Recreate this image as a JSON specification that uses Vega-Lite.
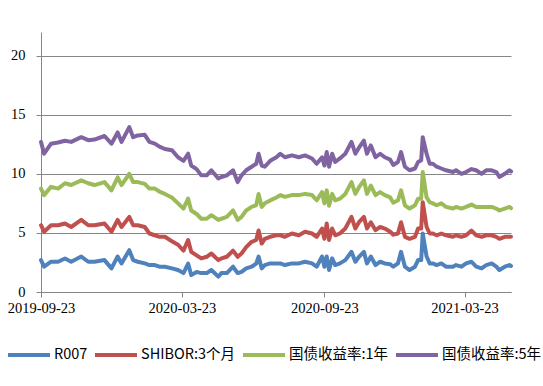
{
"$schema": "https://vega.github.io/schema/vega-lite/v6.json",
"width": 470, "height": 260,
"autosize": {"type": "none"},
"padding": {"left": 41, "top": 32, "right": 32, "bottom": 94},
"background": "white",
"config": {"view": {"stroke": null}, "font": "Liberation Serif"},
"data": {"values": [
{"date":"2019-09-23","series":"R007","value":2.7},{"date":"2019-09-23","series":"SHIBOR:3个月","value":5.65},{"date":"2019-09-23","series":"国债收益率:1年","value":8.75},{"date":"2019-09-23","series":"国债收益率:5年","value":12.7},
{"date":"2019-09-27","series":"R007","value":2.14},{"date":"2019-09-27","series":"SHIBOR:3个月","value":5.1},{"date":"2019-09-27","series":"国债收益率:1年","value":8.2},{"date":"2019-09-27","series":"国债收益率:5年","value":11.7},
{"date":"2019-10-06","series":"R007","value":2.56},{"date":"2019-10-06","series":"SHIBOR:3个月","value":5.65},{"date":"2019-10-06","series":"国债收益率:1年","value":8.9},{"date":"2019-10-06","series":"国债收益率:5年","value":12.55},
{"date":"2019-10-15","series":"R007","value":2.56},{"date":"2019-10-15","series":"SHIBOR:3个月","value":5.65},{"date":"2019-10-15","series":"国债收益率:1年","value":8.75},{"date":"2019-10-15","series":"国债收益率:5年","value":12.65},
{"date":"2019-10-24","series":"R007","value":2.84},{"date":"2019-10-24","series":"SHIBOR:3个月","value":5.8},{"date":"2019-10-24","series":"国债收益率:1年","value":9.2},{"date":"2019-10-24","series":"国债收益率:5年","value":12.8},
{"date":"2019-11-01","series":"R007","value":2.56},{"date":"2019-11-01","series":"SHIBOR:3个月","value":5.5},{"date":"2019-11-01","series":"国债收益率:1年","value":9.05},{"date":"2019-11-01","series":"国债收益率:5年","value":12.7},
{"date":"2019-11-14","series":"R007","value":3.0},{"date":"2019-11-14","series":"SHIBOR:3个月","value":6.1},{"date":"2019-11-14","series":"国债收益率:1年","value":9.45},{"date":"2019-11-14","series":"国债收益率:5年","value":13.1},
{"date":"2019-11-23","series":"R007","value":2.56},{"date":"2019-11-23","series":"SHIBOR:3个月","value":5.65},{"date":"2019-11-23","series":"国债收益率:1年","value":9.2},{"date":"2019-11-23","series":"国债收益率:5年","value":12.85},
{"date":"2019-12-01","series":"R007","value":2.56},{"date":"2019-12-01","series":"SHIBOR:3个月","value":5.65},{"date":"2019-12-01","series":"国债收益率:1年","value":9.05},{"date":"2019-12-01","series":"国债收益率:5年","value":12.9},
{"date":"2019-12-14","series":"R007","value":2.7},{"date":"2019-12-14","series":"SHIBOR:3个月","value":5.8},{"date":"2019-12-14","series":"国债收益率:1年","value":9.3},{"date":"2019-12-14","series":"国债收益率:5年","value":13.2},
{"date":"2019-12-23","series":"R007","value":2.0},{"date":"2019-12-23","series":"SHIBOR:3个月","value":5.1},{"date":"2019-12-23","series":"国债收益率:1年","value":8.6},{"date":"2019-12-23","series":"国债收益率:5年","value":12.55},
{"date":"2019-12-31","series":"R007","value":3.0},{"date":"2019-12-31","series":"SHIBOR:3个月","value":6.1},{"date":"2019-12-31","series":"国债收益率:1年","value":9.7},{"date":"2019-12-31","series":"国债收益率:5年","value":13.5},
{"date":"2020-01-05","series":"R007","value":2.42},{"date":"2020-01-05","series":"SHIBOR:3个月","value":5.5},{"date":"2020-01-05","series":"国债收益率:1年","value":9.05},{"date":"2020-01-05","series":"国债收益率:5年","value":12.7},
{"date":"2020-01-15","series":"R007","value":3.54},{"date":"2020-01-15","series":"SHIBOR:3个月","value":6.35},{"date":"2020-01-15","series":"国债收益率:1年","value":10.0},{"date":"2020-01-15","series":"国债收益率:5年","value":13.95},
{"date":"2020-01-20","series":"R007","value":2.7},{"date":"2020-01-20","series":"SHIBOR:3个月","value":5.65},{"date":"2020-01-20","series":"国债收益率:1年","value":9.3},{"date":"2020-01-20","series":"国债收益率:5年","value":13.1},
{"date":"2020-01-26","series":"R007","value":2.56},{"date":"2020-01-26","series":"SHIBOR:3个月","value":5.65},{"date":"2020-01-26","series":"国债收益率:1年","value":9.3},{"date":"2020-01-26","series":"国债收益率:5年","value":13.25},
{"date":"2020-02-04","series":"R007","value":2.42},{"date":"2020-02-04","series":"SHIBOR:3个月","value":5.5},{"date":"2020-02-04","series":"国债收益率:1年","value":9.15},{"date":"2020-02-04","series":"国债收益率:5年","value":13.3},
{"date":"2020-02-10","series":"R007","value":2.28},{"date":"2020-02-10","series":"SHIBOR:3个月","value":4.95},{"date":"2020-02-10","series":"国债收益率:1年","value":8.75},{"date":"2020-02-10","series":"国债收益率:5年","value":12.7},
{"date":"2020-02-17","series":"R007","value":2.28},{"date":"2020-02-17","series":"SHIBOR:3个月","value":4.8},{"date":"2020-02-17","series":"国债收益率:1年","value":8.75},{"date":"2020-02-17","series":"国债收益率:5年","value":12.55},
{"date":"2020-02-23","series":"R007","value":2.14},{"date":"2020-02-23","series":"SHIBOR:3个月","value":4.67},{"date":"2020-02-23","series":"国债收益率:1年","value":8.5},{"date":"2020-02-23","series":"国债收益率:5年","value":12.3},
{"date":"2020-03-01","series":"R007","value":2.14},{"date":"2020-03-01","series":"SHIBOR:3个月","value":4.67},{"date":"2020-03-01","series":"国债收益率:1年","value":8.3},{"date":"2020-03-01","series":"国债收益率:5年","value":12.1},
{"date":"2020-03-10","series":"R007","value":2.0},{"date":"2020-03-10","series":"SHIBOR:3个月","value":4.3},{"date":"2020-03-10","series":"国债收益率:1年","value":8.0},{"date":"2020-03-10","series":"国债收益率:5年","value":12.0},
{"date":"2020-03-18","series":"R007","value":1.86},{"date":"2020-03-18","series":"SHIBOR:3个月","value":4.0},{"date":"2020-03-18","series":"国债收益率:1年","value":7.5},{"date":"2020-03-18","series":"国债收益率:5年","value":11.4},
{"date":"2020-03-25","series":"R007","value":1.6},{"date":"2020-03-25","series":"SHIBOR:3个月","value":3.5},{"date":"2020-03-25","series":"国债收益率:1年","value":7.05},{"date":"2020-03-25","series":"国债收益率:5年","value":11.1},
{"date":"2020-03-31","series":"R007","value":2.4},{"date":"2020-03-31","series":"SHIBOR:3个月","value":4.4},{"date":"2020-03-31","series":"国债收益率:1年","value":7.9},{"date":"2020-03-31","series":"国债收益率:5年","value":11.7},
{"date":"2020-04-04","series":"R007","value":1.43},{"date":"2020-04-04","series":"SHIBOR:3个月","value":3.4},{"date":"2020-04-04","series":"国债收益率:1年","value":6.9},{"date":"2020-04-04","series":"国债收益率:5年","value":10.7},
{"date":"2020-04-11","series":"R007","value":1.7},{"date":"2020-04-11","series":"SHIBOR:3个月","value":3.1},{"date":"2020-04-11","series":"国债收益率:1年","value":6.6},{"date":"2020-04-11","series":"国债收益率:5年","value":10.4},
{"date":"2020-04-17","series":"R007","value":1.6},{"date":"2020-04-17","series":"SHIBOR:3个月","value":2.84},{"date":"2020-04-17","series":"国债收益率:1年","value":6.2},{"date":"2020-04-17","series":"国债收益率:5年","value":9.87},
{"date":"2020-04-24","series":"R007","value":1.6},{"date":"2020-04-24","series":"SHIBOR:3个月","value":2.98},{"date":"2020-04-24","series":"国债收益率:1年","value":6.2},{"date":"2020-04-24","series":"国债收益率:5年","value":9.87},
{"date":"2020-04-30","series":"R007","value":1.86},{"date":"2020-04-30","series":"SHIBOR:3个月","value":3.26},{"date":"2020-04-30","series":"国债收益率:1年","value":6.5},{"date":"2020-04-30","series":"国债收益率:5年","value":10.3},
{"date":"2020-05-09","series":"R007","value":1.3},{"date":"2020-05-09","series":"SHIBOR:3个月","value":2.7},{"date":"2020-05-09","series":"国债收益率:1年","value":6.1},{"date":"2020-05-09","series":"国债收益率:5年","value":9.6},
{"date":"2020-05-13","series":"R007","value":1.6},{"date":"2020-05-13","series":"SHIBOR:3个月","value":2.84},{"date":"2020-05-13","series":"国债收益率:1年","value":6.2},{"date":"2020-05-13","series":"国债收益率:5年","value":9.73},
{"date":"2020-05-20","series":"R007","value":1.6},{"date":"2020-05-20","series":"SHIBOR:3个月","value":2.98},{"date":"2020-05-20","series":"国债收益率:1年","value":6.35},{"date":"2020-05-20","series":"国债收益率:5年","value":9.87},
{"date":"2020-05-28","series":"R007","value":2.14},{"date":"2020-05-28","series":"SHIBOR:3个月","value":3.5},{"date":"2020-05-28","series":"国债收益率:1年","value":6.9},{"date":"2020-05-28","series":"国债收益率:5年","value":10.3},
{"date":"2020-06-03","series":"R007","value":1.6},{"date":"2020-06-03","series":"SHIBOR:3个月","value":2.98},{"date":"2020-06-03","series":"国债收益率:1年","value":6.1},{"date":"2020-06-03","series":"国债收益率:5年","value":9.3},
{"date":"2020-06-08","series":"R007","value":1.7},{"date":"2020-06-08","series":"SHIBOR:3个月","value":3.26},{"date":"2020-06-08","series":"国债收益率:1年","value":6.35},{"date":"2020-06-08","series":"国债收益率:5年","value":9.87},
{"date":"2020-06-14","series":"R007","value":2.0},{"date":"2020-06-14","series":"SHIBOR:3个月","value":3.8},{"date":"2020-06-14","series":"国债收益率:1年","value":6.9},{"date":"2020-06-14","series":"国债收益率:5年","value":10.3},
{"date":"2020-06-21","series":"R007","value":2.14},{"date":"2020-06-21","series":"SHIBOR:3个月","value":4.25},{"date":"2020-06-21","series":"国债收益率:1年","value":7.2},{"date":"2020-06-21","series":"国债收益率:5年","value":10.6},
{"date":"2020-06-27","series":"R007","value":2.4},{"date":"2020-06-27","series":"SHIBOR:3个月","value":4.4},{"date":"2020-06-27","series":"国债收益率:1年","value":7.35},{"date":"2020-06-27","series":"国债收益率:5年","value":10.85},
{"date":"2020-06-30","series":"R007","value":3.0},{"date":"2020-06-30","series":"SHIBOR:3个月","value":5.2},{"date":"2020-06-30","series":"国债收益率:1年","value":8.3},{"date":"2020-06-30","series":"国债收益率:5年","value":11.7},
{"date":"2020-07-04","series":"R007","value":2.0},{"date":"2020-07-04","series":"SHIBOR:3个月","value":4.1},{"date":"2020-07-04","series":"国债收益率:1年","value":7.2},{"date":"2020-07-04","series":"国债收益率:5年","value":10.7},
{"date":"2020-07-08","series":"R007","value":2.28},{"date":"2020-07-08","series":"SHIBOR:3个月","value":4.5},{"date":"2020-07-08","series":"国债收益率:1年","value":7.5},{"date":"2020-07-08","series":"国债收益率:5年","value":10.6},
{"date":"2020-07-15","series":"R007","value":2.42},{"date":"2020-07-15","series":"SHIBOR:3个月","value":4.67},{"date":"2020-07-15","series":"国债收益率:1年","value":7.75},{"date":"2020-07-15","series":"国债收益率:5年","value":11.1},
{"date":"2020-07-23","series":"R007","value":2.42},{"date":"2020-07-23","series":"SHIBOR:3个月","value":4.8},{"date":"2020-07-23","series":"国债收益率:1年","value":8.0},{"date":"2020-07-23","series":"国债收益率:5年","value":11.4},
{"date":"2020-07-28","series":"R007","value":2.42},{"date":"2020-07-28","series":"SHIBOR:3个月","value":4.8},{"date":"2020-07-28","series":"国债收益率:1年","value":8.2},{"date":"2020-07-28","series":"国债收益率:5年","value":11.7},
{"date":"2020-08-03","series":"R007","value":2.28},{"date":"2020-08-03","series":"SHIBOR:3个月","value":4.67},{"date":"2020-08-03","series":"国债收益率:1年","value":8.05},{"date":"2020-08-03","series":"国债收益率:5年","value":11.4},
{"date":"2020-08-12","series":"R007","value":2.42},{"date":"2020-08-12","series":"SHIBOR:3个月","value":4.95},{"date":"2020-08-12","series":"国债收益率:1年","value":8.2},{"date":"2020-08-12","series":"国债收益率:5年","value":11.56},
{"date":"2020-08-21","series":"R007","value":2.42},{"date":"2020-08-21","series":"SHIBOR:3个月","value":4.8},{"date":"2020-08-21","series":"国债收益率:1年","value":8.2},{"date":"2020-08-21","series":"国债收益率:5年","value":11.4},
{"date":"2020-08-29","series":"R007","value":2.56},{"date":"2020-08-29","series":"SHIBOR:3个月","value":5.1},{"date":"2020-08-29","series":"国债收益率:1年","value":8.3},{"date":"2020-08-29","series":"国债收益率:5年","value":11.56},
{"date":"2020-09-07","series":"R007","value":2.42},{"date":"2020-09-07","series":"SHIBOR:3个月","value":4.95},{"date":"2020-09-07","series":"国债收益率:1年","value":8.2},{"date":"2020-09-07","series":"国债收益率:5年","value":11.3},
{"date":"2020-09-13","series":"R007","value":2.14},{"date":"2020-09-13","series":"SHIBOR:3个月","value":4.67},{"date":"2020-09-13","series":"国债收益率:1年","value":7.76},{"date":"2020-09-13","series":"国债收益率:5年","value":10.85},
{"date":"2020-09-20","series":"R007","value":3.0},{"date":"2020-09-20","series":"SHIBOR:3个月","value":5.37},{"date":"2020-09-20","series":"国债收益率:1年","value":8.45},{"date":"2020-09-20","series":"国债收益率:5年","value":11.4},
{"date":"2020-09-23","series":"R007","value":2.14},{"date":"2020-09-23","series":"SHIBOR:3个月","value":4.5},{"date":"2020-09-23","series":"国债收益率:1年","value":7.5},{"date":"2020-09-23","series":"国债收益率:5年","value":10.7},
{"date":"2020-09-26","series":"R007","value":3.0},{"date":"2020-09-26","series":"SHIBOR:3个月","value":5.8},{"date":"2020-09-26","series":"国债收益率:1年","value":8.6},{"date":"2020-09-26","series":"国债收益率:5年","value":11.84},
{"date":"2020-09-29","series":"R007","value":1.86},{"date":"2020-09-29","series":"SHIBOR:3个月","value":4.4},{"date":"2020-09-29","series":"国债收益率:1年","value":7.3},{"date":"2020-09-29","series":"国债收益率:5年","value":10.6},
{"date":"2020-10-03","series":"R007","value":2.85},{"date":"2020-10-03","series":"SHIBOR:3个月","value":5.37},{"date":"2020-10-03","series":"国债收益率:1年","value":8.3},{"date":"2020-10-03","series":"国债收益率:5年","value":11.7},
{"date":"2020-10-07","series":"R007","value":2.28},{"date":"2020-10-07","series":"SHIBOR:3个月","value":4.8},{"date":"2020-10-07","series":"国债收益率:1年","value":7.76},{"date":"2020-10-07","series":"国债收益率:5年","value":11.0},
{"date":"2020-10-13","series":"R007","value":2.42},{"date":"2020-10-13","series":"SHIBOR:3个月","value":4.95},{"date":"2020-10-13","series":"国债收益率:1年","value":7.9},{"date":"2020-10-13","series":"国债收益率:5年","value":11.3},
{"date":"2020-10-20","series":"R007","value":2.7},{"date":"2020-10-20","series":"SHIBOR:3个月","value":5.37},{"date":"2020-10-20","series":"国债收益率:1年","value":8.3},{"date":"2020-10-20","series":"国债收益率:5年","value":11.7},
{"date":"2020-10-28","series":"R007","value":3.4},{"date":"2020-10-28","series":"SHIBOR:3个月","value":6.36},{"date":"2020-10-28","series":"国债收益率:1年","value":9.3},{"date":"2020-10-28","series":"国债收益率:5年","value":12.7},
{"date":"2020-11-02","series":"R007","value":2.56},{"date":"2020-11-02","series":"SHIBOR:3个月","value":5.37},{"date":"2020-11-02","series":"国债收益率:1年","value":8.3},{"date":"2020-11-02","series":"国债收益率:5年","value":11.7},
{"date":"2020-11-07","series":"R007","value":3.0},{"date":"2020-11-07","series":"SHIBOR:3个月","value":5.94},{"date":"2020-11-07","series":"国债收益率:1年","value":8.9},{"date":"2020-11-07","series":"国债收益率:5年","value":12.25},
{"date":"2020-11-13","series":"R007","value":3.4},{"date":"2020-11-13","series":"SHIBOR:3个月","value":6.36},{"date":"2020-11-13","series":"国债收益率:1年","value":9.45},{"date":"2020-11-13","series":"国债收益率:5年","value":12.8},
{"date":"2020-11-17","series":"R007","value":2.42},{"date":"2020-11-17","series":"SHIBOR:3个月","value":5.37},{"date":"2020-11-17","series":"国债收益率:1年","value":8.3},{"date":"2020-11-17","series":"国债收益率:5年","value":11.7},
{"date":"2020-11-22","series":"R007","value":3.0},{"date":"2020-11-22","series":"SHIBOR:3个月","value":5.9},{"date":"2020-11-22","series":"国债收益率:1年","value":9.0},{"date":"2020-11-22","series":"国债收益率:5年","value":12.4},
{"date":"2020-11-28","series":"R007","value":2.28},{"date":"2020-11-28","series":"SHIBOR:3个月","value":5.23},{"date":"2020-11-28","series":"国债收益率:1年","value":8.2},{"date":"2020-11-28","series":"国债收益率:5年","value":11.4},
{"date":"2020-12-04","series":"R007","value":2.56},{"date":"2020-12-04","series":"SHIBOR:3个月","value":5.5},{"date":"2020-12-04","series":"国债收益率:1年","value":8.45},{"date":"2020-12-04","series":"国债收益率:5年","value":11.7},
{"date":"2020-12-10","series":"R007","value":2.42},{"date":"2020-12-10","series":"SHIBOR:3个月","value":5.37},{"date":"2020-12-10","series":"国债收益率:1年","value":8.2},{"date":"2020-12-10","series":"国债收益率:5年","value":11.4},
{"date":"2020-12-17","series":"R007","value":2.35},{"date":"2020-12-17","series":"SHIBOR:3个月","value":5.1},{"date":"2020-12-17","series":"国债收益率:1年","value":8.0},{"date":"2020-12-17","series":"国债收益率:5年","value":11.2},
{"date":"2020-12-21","series":"R007","value":2.14},{"date":"2020-12-21","series":"SHIBOR:3个月","value":4.85},{"date":"2020-12-21","series":"国债收益率:1年","value":7.55},{"date":"2020-12-21","series":"国债收益率:5年","value":10.75},
{"date":"2020-12-27","series":"R007","value":2.42},{"date":"2020-12-27","series":"SHIBOR:3个月","value":4.95},{"date":"2020-12-27","series":"国债收益率:1年","value":7.76},{"date":"2020-12-27","series":"国债收益率:5年","value":11.0},
{"date":"2020-12-31","series":"R007","value":3.4},{"date":"2020-12-31","series":"SHIBOR:3个月","value":5.9},{"date":"2020-12-31","series":"国债收益率:1年","value":8.6},{"date":"2020-12-31","series":"国债收益率:5年","value":11.84},
{"date":"2021-01-05","series":"R007","value":2.14},{"date":"2021-01-05","series":"SHIBOR:3个月","value":4.67},{"date":"2021-01-05","series":"国债收益率:1年","value":7.34},{"date":"2021-01-05","series":"国债收益率:5年","value":10.6},
{"date":"2021-01-11","series":"R007","value":1.86},{"date":"2021-01-11","series":"SHIBOR:3个月","value":4.5},{"date":"2021-01-11","series":"国债收益率:1年","value":7.06},{"date":"2021-01-11","series":"国债收益率:5年","value":10.3},
{"date":"2021-01-18","series":"R007","value":2.14},{"date":"2021-01-18","series":"SHIBOR:3个月","value":4.67},{"date":"2021-01-18","series":"国债收益率:1年","value":7.34},{"date":"2021-01-18","series":"国债收益率:5年","value":10.45},
{"date":"2021-01-22","series":"R007","value":2.7},{"date":"2021-01-22","series":"SHIBOR:3个月","value":5.37},{"date":"2021-01-22","series":"国债收益率:1年","value":7.9},{"date":"2021-01-22","series":"国债收益率:5年","value":11.0},
{"date":"2021-01-26","series":"R007","value":2.7},{"date":"2021-01-26","series":"SHIBOR:3个月","value":5.37},{"date":"2021-01-26","series":"国债收益率:1年","value":7.9},{"date":"2021-01-26","series":"国债收益率:5年","value":11.14},
{"date":"2021-01-28","series":"R007","value":4.95},{"date":"2021-01-28","series":"SHIBOR:3个月","value":7.6},{"date":"2021-01-28","series":"国债收益率:1年","value":10.15},{"date":"2021-01-28","series":"国债收益率:5年","value":13.1},
{"date":"2021-02-02","series":"R007","value":3.0},{"date":"2021-02-02","series":"SHIBOR:3个月","value":5.5},{"date":"2021-02-02","series":"国债收益率:1年","value":8.0},{"date":"2021-02-02","series":"国债收益率:5年","value":11.7},
{"date":"2021-02-06","series":"R007","value":2.42},{"date":"2021-02-06","series":"SHIBOR:3个月","value":4.95},{"date":"2021-02-06","series":"国债收益率:1年","value":7.6},{"date":"2021-02-06","series":"国债收益率:5年","value":10.85},
{"date":"2021-02-10","series":"R007","value":2.42},{"date":"2021-02-10","series":"SHIBOR:3个月","value":4.95},{"date":"2021-02-10","series":"国债收益率:1年","value":7.5},{"date":"2021-02-10","series":"国债收益率:5年","value":10.85},
{"date":"2021-02-15","series":"R007","value":2.28},{"date":"2021-02-15","series":"SHIBOR:3个月","value":4.8},{"date":"2021-02-15","series":"国债收益率:1年","value":7.34},{"date":"2021-02-15","series":"国债收益率:5年","value":10.6},
{"date":"2021-02-21","series":"R007","value":2.42},{"date":"2021-02-21","series":"SHIBOR:3个月","value":4.95},{"date":"2021-02-21","series":"国债收益率:1年","value":7.5},{"date":"2021-02-21","series":"国债收益率:5年","value":10.45},
{"date":"2021-02-27","series":"R007","value":2.14},{"date":"2021-02-27","series":"SHIBOR:3个月","value":4.8},{"date":"2021-02-27","series":"国债收益率:1年","value":7.2},{"date":"2021-02-27","series":"国债收益率:5年","value":10.3},
{"date":"2021-03-08","series":"R007","value":2.14},{"date":"2021-03-08","series":"SHIBOR:3个月","value":4.67},{"date":"2021-03-08","series":"国债收益率:1年","value":7.06},{"date":"2021-03-08","series":"国债收益率:5年","value":10.15},
{"date":"2021-03-12","series":"R007","value":2.28},{"date":"2021-03-12","series":"SHIBOR:3个月","value":4.8},{"date":"2021-03-12","series":"国债收益率:1年","value":7.2},{"date":"2021-03-12","series":"国债收益率:5年","value":10.3},
{"date":"2021-03-19","series":"R007","value":2.14},{"date":"2021-03-19","series":"SHIBOR:3个月","value":4.67},{"date":"2021-03-19","series":"国债收益率:1年","value":7.06},{"date":"2021-03-19","series":"国债收益率:5年","value":10.0},
{"date":"2021-03-25","series":"R007","value":2.42},{"date":"2021-03-25","series":"SHIBOR:3个月","value":4.8},{"date":"2021-03-25","series":"国债收益率:1年","value":7.2},{"date":"2021-03-25","series":"国债收益率:5年","value":10.15},
{"date":"2021-04-01","series":"R007","value":2.56},{"date":"2021-04-01","series":"SHIBOR:3个月","value":5.2},{"date":"2021-04-01","series":"国债收益率:1年","value":7.4},{"date":"2021-04-01","series":"国债收益率:5年","value":10.4},
{"date":"2021-04-07","series":"R007","value":2.14},{"date":"2021-04-07","series":"SHIBOR:3个月","value":4.8},{"date":"2021-04-07","series":"国债收益率:1年","value":7.2},{"date":"2021-04-07","series":"国债收益率:5年","value":10.3},
{"date":"2021-04-14","series":"R007","value":2.0},{"date":"2021-04-14","series":"SHIBOR:3个月","value":4.67},{"date":"2021-04-14","series":"国债收益率:1年","value":7.2},{"date":"2021-04-14","series":"国债收益率:5年","value":10.0},
{"date":"2021-04-20","series":"R007","value":2.28},{"date":"2021-04-20","series":"SHIBOR:3个月","value":4.8},{"date":"2021-04-20","series":"国债收益率:1年","value":7.2},{"date":"2021-04-20","series":"国债收益率:5年","value":10.3},
{"date":"2021-04-27","series":"R007","value":2.42},{"date":"2021-04-27","series":"SHIBOR:3个月","value":4.8},{"date":"2021-04-27","series":"国债收益率:1年","value":7.2},{"date":"2021-04-27","series":"国债收益率:5年","value":10.3},
{"date":"2021-05-03","series":"R007","value":2.14},{"date":"2021-05-03","series":"SHIBOR:3个月","value":4.67},{"date":"2021-05-03","series":"国债收益率:1年","value":7.06},{"date":"2021-05-03","series":"国债收益率:5年","value":10.15},
{"date":"2021-05-07","series":"R007","value":1.86},{"date":"2021-05-07","series":"SHIBOR:3个月","value":4.5},{"date":"2021-05-07","series":"国债收益率:1年","value":6.9},{"date":"2021-05-07","series":"国债收益率:5年","value":9.73},
{"date":"2021-05-14","series":"R007","value":2.14},{"date":"2021-05-14","series":"SHIBOR:3个月","value":4.67},{"date":"2021-05-14","series":"国债收益率:1年","value":7.06},{"date":"2021-05-14","series":"国债收益率:5年","value":10.0},
{"date":"2021-05-20","series":"R007","value":2.28},{"date":"2021-05-20","series":"SHIBOR:3个月","value":4.67},{"date":"2021-05-20","series":"国债收益率:1年","value":7.2},{"date":"2021-05-20","series":"国债收益率:5年","value":10.3},
{"date":"2021-05-22","series":"R007","value":2.2},{"date":"2021-05-22","series":"SHIBOR:3个月","value":4.67},{"date":"2021-05-22","series":"国债收益率:1年","value":7.1},{"date":"2021-05-22","series":"国债收益率:5年","value":10.2}
]},
"mark": {"type": "line", "strokeWidth": 4, "strokeJoin": "round", "strokeCap": "round"},
"encoding": {
  "x": {"field": "date", "type": "temporal",
    "scale": {"type": "utc", "domain": [{"year": 2019, "month": 9, "date": 23, "utc": true}, {"year": 2021, "month": 5, "date": 22, "utc": true}]},
    "axis": {"title": null, "grid": false, "format": "%Y-%m-%d",
      "values": [{"year": 2019, "month": 9, "date": 23, "utc": true}, {"year": 2020, "month": 3, "date": 23, "utc": true}, {"year": 2020, "month": 9, "date": 23, "utc": true}, {"year": 2021, "month": 3, "date": 23, "utc": true}],
      "domainColor": "#868686", "domainWidth": 1, "tickColor": "#868686", "tickSize": 5, "tickWidth": 1,
      "labelFont": "Liberation Serif, serif", "labelFontSize": 14.5, "labelColor": "#000000", "labelPadding": 4,
      "labelFlush": false, "labelOverlap": false, "labelBound": false}},
  "y": {"field": "value", "type": "quantitative",
    "scale": {"domain": [0, 22], "nice": false, "zero": true},
    "axis": {"title": null, "values": [0, 5, 10, 15, 20], "grid": true, "gridColor": "#868686", "gridWidth": 1, "gridOpacity": 1,
      "domainColor": "#868686", "domainWidth": 1, "ticks": true, "tickSize": 5, "tickColor": "#868686", "tickWidth": 1,
      "labelFont": "Liberation Serif, serif", "labelFontSize": 14.5, "labelColor": "#000000", "labelPadding": 11}},
  "color": {"field": "series", "type": "nominal",
    "scale": {"domain": ["R007", "SHIBOR:3个月", "国债收益率:1年", "国债收益率:5年"], "range": ["#4F81BD", "#C0504D", "#9BBB59", "#8064A2"]},
    "legend": {"title": null, "orient": "none", "legendX": -35, "legendY": 300, "direction": "horizontal", "columns": 4,
      "symbolType": "stroke", "symbolSize": 1764, "symbolStrokeWidth": 4,
      "labelFont": "Noto Sans CJK SC", "labelFontSize": 14.5, "labelColor": "#000000", "labelOffset": 2,
      "columnPadding": -1, "labelLimit": 300}}
}
}
